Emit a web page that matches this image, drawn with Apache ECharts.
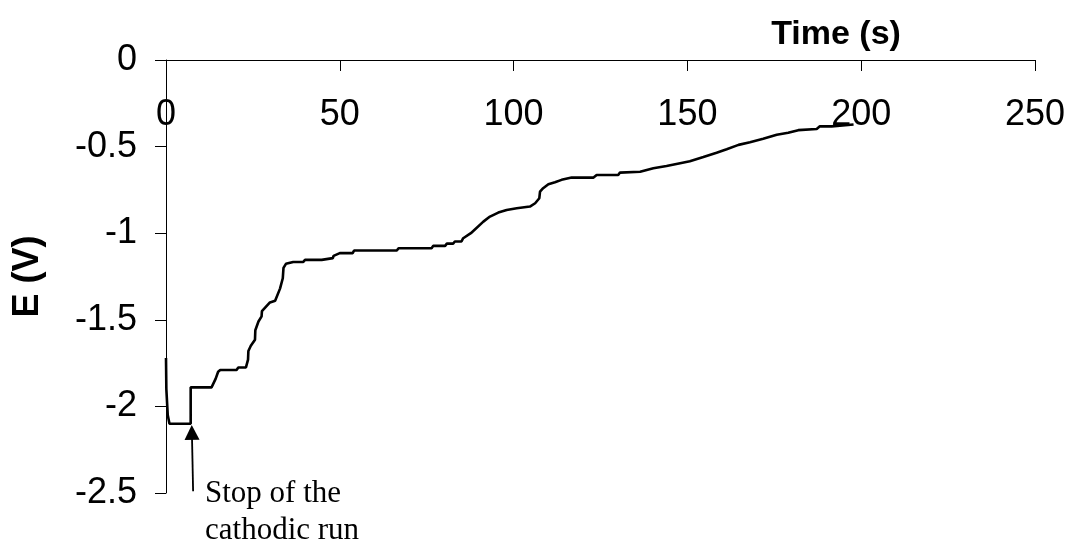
<!DOCTYPE html>
<html>
<head>
<meta charset="utf-8">
<script src="https://cdn.jsdelivr.net/npm/echarts@6/dist/echarts.min.js"></script>
<style>html,body{margin:0;padding:0;background:#fff}#c{width:1072px;height:545px}</style>
</head>
<body>
<div id="c"></div>
<script>
// Time (s)
const timeS = [0, 0.1, 0.5, 1.0, 7.1, 7.1, 13.1, 14.3, 15.0, 15.6, 20.3, 20.8, 23.0, 23.6, 23.7, 24.4, 25.6, 25.7, 26.6, 27.5, 27.6, 29.9, 31.4, 32.8, 33.6, 33.8, 34.5, 36.6, 39.5, 40.0, 44.8, 45.2, 48.0, 48.2, 50.0, 53.7, 54.1, 66.4, 66.9, 76.4, 76.9, 80.3, 80.8, 82.6, 83.1, 85.0, 85.5, 87.7, 91.3, 93.2, 95.6, 98.0, 100.9, 104.7, 106.2, 107.4, 107.6, 108.5, 110.0, 111.9, 113.8, 116.7, 123.0, 123.9, 130.1, 130.6, 136.4, 140.2, 144.0, 147.9, 150.7, 154.6, 158.4, 161.3, 164.7, 168.0, 171.8, 175.7, 179.0, 181.9, 187.2, 188.1, 191.5, 192.0, 197.8];
// Potential E (V)
const potentialV = [-1.72, -1.90, -2.05, -2.10, -2.10, -1.89, -1.89, -1.84, -1.80, -1.79, -1.79, -1.775, -1.775, -1.73, -1.68, -1.65, -1.615, -1.56, -1.51, -1.48, -1.45, -1.40, -1.39, -1.32, -1.26, -1.20, -1.177, -1.166, -1.166, -1.154, -1.154, -1.144, -1.144, -1.131, -1.115, -1.115, -1.10, -1.10, -1.087, -1.087, -1.073, -1.073, -1.06, -1.06, -1.048, -1.048, -1.029, -1.0, -0.933, -0.904, -0.881, -0.866, -0.856, -0.846, -0.827, -0.798, -0.76, -0.74, -0.717, -0.706, -0.692, -0.679, -0.679, -0.664, -0.664, -0.65, -0.645, -0.625, -0.612, -0.596, -0.585, -0.56, -0.535, -0.515, -0.49, -0.475, -0.455, -0.432, -0.42, -0.405, -0.398, -0.383, -0.383, -0.372, -0.372];
const xTicks = [0, 50, 100, 150, 200, 250];
const yTicks = [0, -0.5, -1, -1.5, -2, -2.5];
// annotation arrow (data coords): tail and head
const arrowTail = [7.8, -2.49];
const arrowHead = [7.45, -2.15];
const annotationLines = ['Stop of the', 'cathodic run'];

const chart = echarts.init(document.getElementById('c'), null, {renderer: 'canvas'});
const sans = '"Liberation Sans", Arial, sans-serif';
const serif = '"Liberation Serif", "Times New Roman", serif';

chart.setOption({
  animation: false,
  backgroundColor: '#fff',
  grid: {left: 166, right: 37, top: 60, bottom: 52, containLabel: false},
  xAxis: {
    type: 'value', position: 'top',
    min: xTicks[0], max: xTicks[xTicks.length - 1], interval: xTicks[1] - xTicks[0],
    name: 'Time (s)', nameLocation: 'end', nameGap: -199,
    nameTextStyle: {fontFamily: sans, fontWeight: 'bold', fontSize: 34, color: '#000', align: 'center', verticalAlign: 'bottom', padding: [0, 0, 8, 0]},
    axisLine: {show: true, onZero: false, lineStyle: {color: '#000', width: 1.2}},
    axisTick: {show: true, inside: true, length: 11, lineStyle: {color: '#000', width: 1}},
    axisLabel: {inside: true, margin: 37, fontFamily: sans, fontSize: 36, color: '#000'},
    splitLine: {show: false}
  },
  yAxis: {
    type: 'value',
    min: yTicks[yTicks.length - 1], max: yTicks[0], interval: 0.5,
    name: 'E (V)', nameLocation: 'middle', nameGap: 120,
    nameTextStyle: {fontFamily: sans, fontWeight: 'bold', fontSize: 36, color: '#000'},
    axisLine: {show: true, onZero: false, lineStyle: {color: '#000', width: 1}},
    axisTick: {show: true, inside: false, length: 11, lineStyle: {color: '#000', width: 1}},
    axisLabel: {margin: 29, fontFamily: sans, fontSize: 36, color: '#000'},
    splitLine: {show: false}
  },
  series: [{
    type: 'line',
    data: timeS.map((t, i) => [t, potentialV[i]]),
    showSymbol: false,
    lineStyle: {color: '#000', width: 2.6},
    itemStyle: {color: '#000'},
    clip: false,
    markLine: {
      silent: true,
      symbol: ['none', 'triangle'],
      symbolSize: [15, 15],
      label: {show: false},
      lineStyle: {color: '#000', width: 1.8, type: 'solid'},
      data: [[{coord: arrowTail}, {coord: arrowHead}]]
    }
  }],
  graphic: [
    {type: 'text', left: 205, top: 478, style: {text: annotationLines[0], font: '31px ' + serif, fill: '#000'}},
    {type: 'text', left: 205, top: 515, style: {text: annotationLines[1], font: '31px ' + serif, fill: '#000'}}
  ]
});
</script>
</body>
</html>
